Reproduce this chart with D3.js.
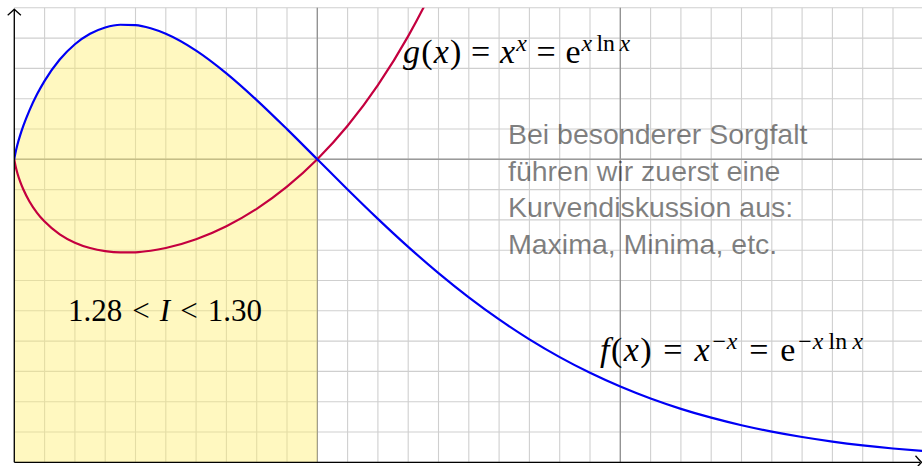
<!DOCTYPE html>
<html>
<head>
<meta charset="utf-8">
<script src="https://cdn.jsdelivr.net/npm/d3@7"></script>
<style>
html,body{margin:0;padding:0;background:#fff;}
svg{display:block;}
</style>
</head>
<body>
<svg id="chart" width="922" height="466"></svg>
<script>
// ---- data ----
const xSamples = [0, 0.001, 0.002, 0.005, 0.01, 0.02, 0.03, 0.05, 0.075, 0.1, 0.15, 0.2, 0.25, 0.3, 0.35, 0.4, 0.45, 0.5, 0.6, 0.7, 0.8, 0.9, 1.0,
  1.1, 1.2, 1.3, 1.4, 1.5, 1.6, 1.7, 1.8, 1.9, 2.0, 2.1, 2.2, 2.3, 2.4, 2.5, 2.6, 2.7, 2.8, 2.9, 3.0];
const fValues = [1, 1.00693, 1.01251, 1.02684, 1.04713, 1.08138, 1.11092, 1.16159, 1.21441, 1.25893, 1.32917, 1.37973, 1.41421, 1.43504, 1.44403, 1.44270, 1.43236, 1.41421, 1.35866, 1.28361, 1.19545, 1.09947, 1,
  0.90047, 0.80349, 0.71103, 0.62434, 0.54433, 0.47143, 0.40575, 0.34714, 0.29535, 0.25, 0.21054, 0.17646, 0.14726, 0.12232, 0.10119, 0.08338, 0.06844, 0.05596, 0.04561, 0.03704];
const gValues = [1, 0.99312, 0.98765, 0.97386, 0.95500, 0.92474, 0.90014, 0.86089, 0.82344, 0.79433, 0.75234, 0.72478, 0.70711, 0.69685, 0.69251, 0.69315, 0.69815, 0.70711, 0.73602, 0.77905, 0.83651, 0.90953, 1,
  1.11053, 1.24457, 1.40641, 1.60169, 1.83712];
const xDomain = [0, 3];
const yDomain = [0, 1.5];
const majorX = [1, 2];
const majorY = [1];
const areaLimit = 1;
const noteLines = ["Bei besonderer Sorgfalt", "führen wir zuerst eine", "Kurvendiskussion aus:", "Maxima, Minima, etc."];
// formula tokens: [text, style] with style: i=italic, r=roman, o=operator, si/sr = superscript italic/roman
const gFormula = [["g","i"],["(","r"],["x","i"],[")","r"],["=","o"],["x","i"],["x","si"],["=","o"],["e","r"],["x","si"],["ln","sr"],["x","si"]];
const fFormula = [["f","i"],["(","r"],["x","i"],[")","r"],["=","o"],["x","i"],["−x","si"],["=","o"],["e","r"],["−x","si"],["ln","sr"],["x","si"]];
const iFormula = [["1.28","r"],["<","o"],["I","i"],["<","o"],["1.30","r"]];

// ---- scales ----
const svg = d3.select("#chart");
const x = d3.scaleLinear().domain(xDomain).range([14.3, 14.3 + 303 * 3]);
const y = d3.scaleLinear().domain(yDomain).range([462.3, 462.3 - 303 * 1.5]);

const fData = xSamples.map((v, i) => ({x: v, y: fValues[i]}));
const gData = gValues.map((v, i) => ({x: xSamples[i], y: v}));

svg.append("defs").append("clipPath").attr("id", "plotclip")
  .append("rect").attr("x", x(0)).attr("y", y(1.5)).attr("width", x(3) - x(0)).attr("height", y(0) - y(1.5));

// ---- grid ----
const grid = svg.append("g");
grid.selectAll(".vx").data(x.ticks(30)).join("line")
  .attr("x1", d => x(d)).attr("x2", d => x(d)).attr("y1", y(0)).attr("y2", y(1.5))
  .attr("stroke", "#cfcfcf").attr("stroke-width", 1.1);
grid.selectAll(".hy").data(y.ticks(15)).join("line")
  .attr("x1", x(0)).attr("x2", x(3)).attr("y1", d => y(d)).attr("y2", d => y(d))
  .attr("stroke", "#cfcfcf").attr("stroke-width", 1.1);
grid.selectAll(".mx").data(majorX).join("line")
  .attr("x1", d => x(d)).attr("x2", d => x(d)).attr("y1", y(0)).attr("y2", y(1.5))
  .attr("stroke", "#8c8c8c").attr("stroke-width", 1.2);
grid.selectAll(".my").data(majorY).join("line")
  .attr("x1", x(0)).attr("x2", x(3)).attr("y1", d => y(d)).attr("y2", d => y(d))
  .attr("stroke", "#9a9a9a").attr("stroke-width", 1.5);

// ---- filled area under f on [0,1] ----
const area = d3.area().x(d => x(d.x)).y0(y(0)).y1(d => y(d.y)).curve(d3.curveMonotoneX);
svg.append("path").datum(fData.filter(d => d.x <= areaLimit))
  .attr("d", area).attr("fill", "rgb(255,238,110)").attr("fill-opacity", 0.43);

// ---- note text ----
const note = svg.append("text").attr("font-family", "'Liberation Sans', Arial, sans-serif")
  .attr("font-size", 28.5).attr("fill", "#000").attr("fill-opacity", 0.5);
noteLines.forEach((t, i) => {
  note.append("tspan").attr("x", 508).attr("y", 144 + i * 36.5).text(t);
});

// ---- curves ----
const line = d3.line().x(d => x(d.x)).y(d => y(d.y)).curve(d3.curveMonotoneX);
const curves = svg.append("g").attr("clip-path", "url(#plotclip)");
curves.append("path").datum(gData).attr("d", line)
  .attr("fill", "none").attr("stroke", "#c4003f").attr("stroke-width", 2.2);
curves.append("path").datum(fData).attr("d", line)
  .attr("fill", "none").attr("stroke", "#0000f5").attr("stroke-width", 2.2);

// ---- axes ----
const ax = svg.append("g").attr("stroke", "#000").attr("fill", "none").attr("stroke-width", 1.3);
ax.append("line").attr("x1", x(0)).attr("x2", 920).attr("y1", y(0)).attr("y2", y(0));
ax.append("line").attr("x1", x(0)).attr("x2", x(0)).attr("y1", y(0)).attr("y2", 10);
const ty = 9.3, tx = 921.5;
ax.append("path").attr("d", `M${x(0)-6.6},${ty+6} Q${x(0)-2},${ty+2} ${x(0)},${ty} Q${x(0)+2},${ty+2} ${x(0)+6.6},${ty+6}`);
ax.append("path").attr("d", `M${tx-6},${y(0)-6.6} Q${tx-2},${y(0)-2} ${tx},${y(0)} Q${tx-2},${y(0)+2} ${tx-6},${y(0)+6.6}`);

// ---- formulas ----
function drawFormula(tokens, x0, baseline, size, targetWidth) {
  const g = svg.append("g").attr("font-family", "'Liberation Serif', 'Times New Roman', serif").attr("fill", "#000");
  const els = tokens.map(([t, s]) => {
    const sup = s.startsWith("s");
    const el = g.append("text")
      .attr("font-size", sup ? size * 0.7 : size)
      .attr("font-style", (s === "i" || s === "si") ? "italic" : "normal")
      .attr("y", sup ? baseline - size * 0.36 : baseline)
      .text(t);
    return {el, s, w: el.node().getComputedTextLength()};
  });
  const weights = els.map((e, i) => {
    if (i === 0) return 0;
    const prev = els[i - 1];
    if (e.s === "o" || prev.s === "o") return 1;
    if (e.s.startsWith("s") && prev.s.startsWith("s")) return 0.45;
    if (e.s.startsWith("s")) return 0.1;
    return 0.12;
  });
  const glyphW = d3.sum(els, e => e.w);
  const S = d3.sum(weights);
  const unit = Math.max(0, (targetWidth - glyphW) / S);
  let cx = x0;
  els.forEach((e, i) => {
    cx += weights[i] * unit;
    e.el.attr("x", cx);
    cx += e.w;
  });
}
drawFormula(gFormula, 403, 63, 34, 227);
drawFormula(fFormula, 600, 361, 34, 263);
drawFormula(iFormula, 68, 321, 31, 194);
</script>
</body>
</html>
